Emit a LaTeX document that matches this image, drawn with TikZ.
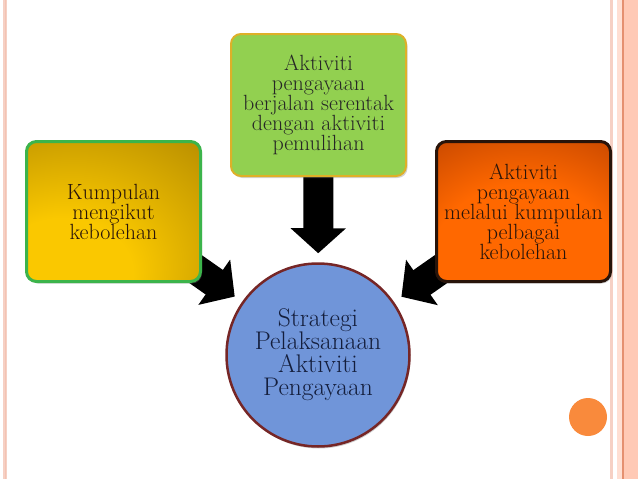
\documentclass[tikz,border=0pt]{standalone}
\usepackage{xcolor}
\usepackage{tikz}
\usetikzlibrary{arrows.meta,positioning,shadows,backgrounds}
\definecolor{kpyellow}{RGB}{250,200,0}
\definecolor{kpgold}{RGB}{168,128,0}
\definecolor{kpborder}{RGB}{60,180,75}
\definecolor{kpgreen}{RGB}{146,208,80}
\definecolor{kpframe}{RGB}{222,176,40}
\definecolor{kporange}{RGB}{255,104,0}
\definecolor{kpbrown}{RGB}{150,44,0}
\definecolor{kpdark}{RGB}{40,20,10}
\definecolor{kpblue}{RGB}{112,149,217}
\definecolor{kpmaroon}{RGB}{118,38,38}
\definecolor{kpnavy}{RGB}{20,30,60}
\definecolor{kpdot}{RGB}{249,138,60}
\definecolor{kpedge}{RGB}{246,208,196}
\definecolor{kppeach}{RGB}{255,201,181}
\definecolor{kpline}{RGB}{229,144,112}
\pgfdeclareradialshading{kumpfill}{\pgfpoint{-18bp}{-28bp}}{color(0bp)=(kpyellow); color(20bp)=(kpyellow); color(60bp)=(kpgold); color(100bp)=(kpgold)}
\pgfdeclareradialshading{pelbfill}{\pgfpoint{0bp}{-22bp}}{color(0bp)=(kporange); color(26bp)=(kporange); color(64bp)=(kpbrown); color(100bp)=(kpbrown)}

\begin{document}
\begin{tikzpicture}[
  x=1pt, y=-1pt,
  card/.style={rounded corners=10pt, align=center, font=\fontsize{22}{20}\selectfont, inner sep=2pt,
    drop shadow={shadow xshift=1.5pt, shadow yshift=-2pt, opacity=0.35}},
  kumpbox/.style={card, draw=kpborder, line width=3pt, shading=kumpfill, text=kpdark, minimum width=174pt, minimum height=140pt},
  serbox/.style={card, draw=kpframe, line width=2pt, fill=kpgreen, text=black!85, minimum width=175pt, minimum height=142pt},
  pelbbox/.style={card, draw=kpdark, line width=3pt, shading=pelbfill, text=kpdark, minimum width=174pt, minimum height=140pt},
  hub/.style={circle, draw=kpmaroon, line width=2.5pt, fill=kpblue, text=kpnavy, minimum size=183pt, align=center,
    font=\fontsize{25.5}{23}\selectfont, drop shadow={shadow xshift=1pt, shadow yshift=-2pt, opacity=0.4}},
  bigarr/.style={line width=30pt, draw=black, -{Triangle[length=25pt, width=54pt]}, shorten >=9pt}
]
\useasboundingbox (0,0) rectangle (638,479);
% side stripes
\fill[kpedge] (3,0) rectangle (7,479);
\fill[kpedge!80!kpline] (4.5,0) rectangle (5.5,479);
\fill[kpedge] (610,0) rectangle (613,479);
\fill[kppeach!60!white] (617,0) rectangle (622,479);
\fill[kpline] (622,0) rectangle (623.5,479);
\fill[kppeach] (623.5,0) rectangle (638,479);

\node[kumpbox] (kump) at (113.5,211.5) {Kumpulan\\mengikut\\kebolehan};
\node[serbox] (seren) at (318.5,105) {Aktiviti\\pengayaan\\berjalan serentak\\dengan aktiviti\\pemulihan};
\node[pelbbox] (pelb) at (523.5,211.5) {Aktiviti\\pengayaan\\melalui kumpulan\\pelbagai\\kebolehan};
\node[hub] (strat) at (318,355) {Strategi\\Pelaksanaan\\Aktiviti\\Pengayaan};

\begin{scope}[on background layer]
\draw[bigarr] (kump.center) -- (strat);
\draw[bigarr] (seren.center) -- (strat);
\draw[bigarr] (pelb.center) -- (strat);
\end{scope}

\fill[kpdot] (588,417) circle (19);
\end{tikzpicture}
\end{document}
